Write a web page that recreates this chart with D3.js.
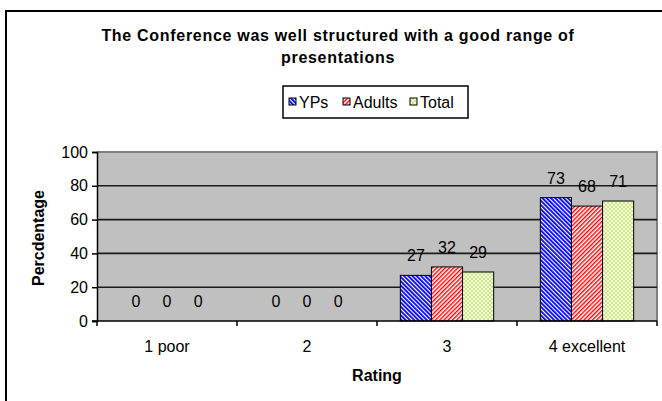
<!DOCTYPE html>
<html>
<head>
<meta charset="utf-8">
<script src="https://cdn.jsdelivr.net/npm/d3@7"></script>
<style>
  html, body { margin: 0; padding: 0; background: #fff; }
  svg { display: block; font-family: "Liberation Sans", Arial, sans-serif; }
</style>
</head>
<body>
<svg id="chart" width="662" height="401"></svg>
<script>
const categories = ["1 poor", "2", "3", "4 excellent"];
const seriesNames = ["YPs", "Adults", "Total"];
const ypsValues = [0, 0, 27, 73];
const adultsValues = [0, 0, 32, 68];
const totalValues = [0, 0, 29, 71];
const yTickValues = [0, 20, 40, 60, 80, 100];
const titleLines = ["The Conference was well structured with a good range of", "presentations"];

const width = 662;
const height = 401;
const plot = { left: 97, right: 657, top: 152, bottom: 321 };

const svg = d3.select("#chart");
const defs = svg.append("defs");

// hatch fills, roughly like the old Excel pattern fills
function stripePattern(id, color, angle, lineWidth) {
  const p = defs.append("pattern")
    .attr("id", id)
    .attr("patternUnits", "userSpaceOnUse")
    .attr("width", 3)
    .attr("height", 3)
    .attr("patternTransform", `rotate(${angle})`);
  p.append("rect").attr("width", 3).attr("height", 3).attr("fill", "#fff");
  p.append("rect").attr("width", lineWidth).attr("height", 3).attr("fill", color);
}
stripePattern("patYPs", "#0000ff", -45, 1.8);
stripePattern("patAdults", "#ff0000", 45, 1.4);

const dots = defs.append("pattern")
  .attr("id", "patTotal")
  .attr("patternUnits", "userSpaceOnUse")
  .attr("width", 4)
  .attr("height", 4);
dots.append("rect").attr("width", 4).attr("height", 4).attr("fill", "#f4fadc");
dots.append("rect").attr("x", 0).attr("y", 0).attr("width", 2).attr("height", 2).attr("fill", "#cfe88a");
dots.append("rect").attr("x", 2).attr("y", 2).attr("width", 2).attr("height", 2).attr("fill", "#cfe88a");

const fills = { YPs: "url(#patYPs)", Adults: "url(#patAdults)", Total: "url(#patTotal)" };
const valuesBySeries = { YPs: ypsValues, Adults: adultsValues, Total: totalValues };

// outer chart border (runs off the right and bottom edges)
svg.append("rect")
  .attr("x", 6).attr("y", 11)
  .attr("width", 700).attr("height", 420)
  .attr("fill", "#fff")
  .attr("stroke", "#000")
  .attr("stroke-width", 2);

// title
svg.append("g")
  .selectAll("text")
  .data(titleLines)
  .join("text")
  .attr("x", 338)
  .attr("y", (d, i) => 41 + i * 22)
  .attr("text-anchor", "middle")
  .attr("font-size", 16)
  .attr("font-weight", "bold")
  .attr("letter-spacing", 0.7)
  .attr("fill", "#000")
  .text(d => d);

// legend
const legend = svg.append("g");
legend.append("rect")
  .attr("x", 283).attr("y", 86)
  .attr("width", 185).attr("height", 32)
  .attr("fill", "#fff")
  .attr("stroke", "#000")
  .attr("stroke-width", 1.5);
const legendX = [289, 343, 410];
const legendItems = legend.selectAll("g")
  .data(seriesNames)
  .join("g")
  .attr("transform", (d, i) => `translate(${legendX[i]},0)`);
legendItems.append("rect")
  .attr("x", 0).attr("y", 98)
  .attr("width", 7).attr("height", 7)
  .attr("fill", d => fills[d])
  .attr("stroke", "#000")
  .attr("stroke-width", 1);
legendItems.append("text")
  .attr("x", 10)
  .attr("y", 108)
  .attr("font-size", 16)
  .attr("fill", "#000")
  .text(d => d);

// scales
const x = d3.scaleBand()
  .domain(categories)
  .range([plot.left, plot.right]);
const xInner = d3.scaleBand()
  .domain(seriesNames)
  .range([0, x.bandwidth()])
  .paddingInner(0)
  .paddingOuter(0.75);
const y = d3.scaleLinear()
  .domain([0, 100])
  .range([plot.bottom, plot.top]);

// plot area
svg.append("rect")
  .attr("x", plot.left).attr("y", plot.top)
  .attr("width", plot.right - plot.left)
  .attr("height", plot.bottom - plot.top)
  .attr("fill", "#c0c0c0");
svg.append("path")
  .attr("d", `M${plot.left},${plot.top}H${plot.right}V${plot.bottom}`)
  .attr("fill", "none")
  .attr("stroke", "#808080")
  .attr("stroke-width", 2);

// gridlines
svg.append("g")
  .selectAll("line")
  .data(yTickValues.filter(v => v > 0 && v < 100))
  .join("line")
  .attr("x1", plot.left).attr("x2", plot.right)
  .attr("y1", d => y(d)).attr("y2", d => y(d))
  .attr("stroke", "#1a1a1a")
  .attr("stroke-width", 1.6);

// bars
const groups = svg.append("g")
  .selectAll("g")
  .data(categories)
  .join("g")
  .attr("transform", d => `translate(${x(d)},0)`);

const barData = (cat, ci) => seriesNames.map(s => ({ series: s, value: valuesBySeries[s][ci] }));

groups.selectAll("rect")
  .data((d, ci) => barData(d, ci))
  .join("rect")
  .attr("x", d => xInner(d.series))
  .attr("y", d => y(d.value))
  .attr("width", xInner.bandwidth())
  .attr("height", d => y(0) - y(d.value))
  .attr("fill", d => fills[d.series])
  .attr("stroke", d => d.value > 0 ? "#000" : "none")
  .attr("stroke-width", 1);

groups.selectAll("text")
  .data((d, ci) => barData(d, ci))
  .join("text")
  .attr("x", d => xInner(d.series) + xInner.bandwidth() / 2)
  .attr("y", d => y(d.value) - 14)
  .attr("text-anchor", "middle")
  .attr("font-size", 16)
  .attr("fill", "#000")
  .text(d => d.value);

// y axis
const yAxis = svg.append("g")
  .attr("transform", `translate(${plot.left},0)`)
  .call(d3.axisLeft(y).tickValues(yTickValues).tickSize(5).tickPadding(4));
yAxis.select(".domain").attr("stroke", "#000").attr("stroke-width", 1.5);
yAxis.selectAll(".tick line").attr("stroke", "#000").attr("stroke-width", 1.5);
yAxis.selectAll(".tick text")
  .attr("font-size", 16)
  .attr("font-family", "Liberation Sans, Arial, sans-serif")
  .attr("fill", "#000");

// x axis with ticks at category boundaries
const xAxisG = svg.append("g");
xAxisG.append("line")
  .attr("x1", plot.left - 5).attr("x2", plot.right)
  .attr("y1", plot.bottom).attr("y2", plot.bottom)
  .attr("stroke", "#000")
  .attr("stroke-width", 1.5);
xAxisG.selectAll(".xtick")
  .data(categories.map(c => x(c)).concat([plot.right]))
  .join("line")
  .attr("class", "xtick")
  .attr("x1", d => d).attr("x2", d => d)
  .attr("y1", plot.bottom).attr("y2", plot.bottom + 5)
  .attr("stroke", "#000")
  .attr("stroke-width", 1.5);
xAxisG.selectAll(".xlabel")
  .data(categories)
  .join("text")
  .attr("class", "xlabel")
  .attr("x", d => x(d) + x.bandwidth() / 2)
  .attr("y", 352)
  .attr("text-anchor", "middle")
  .attr("font-size", 16)
  .attr("fill", "#000")
  .text(d => d);

// axis titles
svg.append("text")
  .attr("x", (plot.left + plot.right) / 2)
  .attr("y", 381)
  .attr("text-anchor", "middle")
  .attr("font-size", 16)
  .attr("font-weight", "bold")
  .attr("fill", "#000")
  .text("Rating");

svg.append("text")
  .attr("transform", "translate(44,238) rotate(-90)")
  .attr("text-anchor", "middle")
  .attr("font-size", 16)
  .attr("font-weight", "bold")
  .attr("fill", "#000")
  .text("Percdentage");
</script>
</body>
</html>
